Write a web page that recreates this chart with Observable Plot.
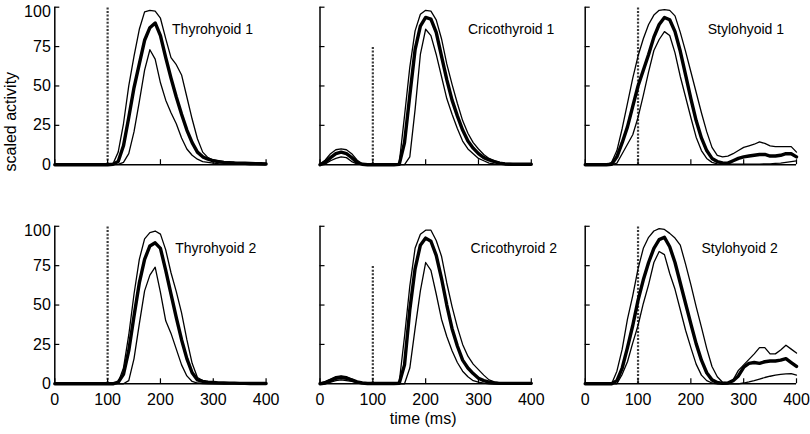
<!DOCTYPE html>
<html><head><meta charset="utf-8">
<script src="https://cdn.jsdelivr.net/npm/d3@7"></script>
<script src="https://cdn.jsdelivr.net/npm/@observablehq/plot@0.6"></script>
<style>
body{margin:0;background:#fff;}
#chart{width:810px;height:434px;}
</style></head><body><div id="chart"></div>
<script>
// ---- data ----
const time = [0,10,20,30,40,50,60,70,80,90,100,110,120,130,140,150,160,170,180,190,200,210,220,230,240,250,260,270,280,290,300,310,320,330,340,350,360,370,380,390,400];
const muscles = ["Thyrohyoid","Cricothyroid","Stylohyoid"];
const sessions = ["1","2"];
const panelTitles = ["Thyrohyoid 1","Cricothyroid 1","Stylohyoid 1","Thyrohyoid 2","Cricothyroid 2","Stylohyoid 2"];
const titleTime = [222,280,232,228,285,220];
const cueTime = 100;
const cueTop = [100,75,100];
const yTicks = [0,25,50,75];
const yTopTick = [100];
const xTicks = [0,100,200,300,400];

const th1Upper = [0,0,0,0,0,0,0,0,0,0, 0, 0.5,8,26,50,69,86,97,98,97.5, 93,80,68,63.5,57,43,29,16.5,8,4.5, 3,2.5,2,1.7,1.5,1.2,1.1,1,0.9,0.8, 0.8];
const th1Mean  = [0,0,0,0,0,0,0,0,0,0, 0, 0.3,2,12,30,49,64,79,87,90, 82,68,55,43,32,22,14,8,5,3.5, 2.5,2,1.5,1.3,1.1,1,0.9,0.8,0.7,0.6, 0.5];
const th1Lower = [0,0,0,0,0,0,0,0,0,0, 0, 0,0.2,1.5,7,21,40,60,73,67, 52,41,33,26,17,10,6,3.5,2,1.5, 1,0.7,0.5,0.4,0.3,0.2,0.2,0.1,0.1,0, 0];

const cr1Upper = [0.5,3,7,9.5,10,9.5,7,3,0.5,0, 0, 0,0,0,0,1,31,62,85,95.5, 98,97.5,92,80,64,51,39,28,20,14, 10,6.5,4,2.5,1.5,1,0.8,0.6,0.5,0.5, 0.5];
const cr1Mean  = [0,1.5,4.5,7,8,7,4.5,1.5,0.3,0, 0, 0,0,0,0,0.2,14,44,73,88, 93.5,92.5,84,69,54,41,31,22,15,10.5, 7,4.5,3,2,1,0.5,0.3,0.3,0.3,0.3, 0.3];
const cr1Lower = [0,0.5,2.5,4,5,4.5,2,0.5,0,0, 0, 0,0,0,0,0,0,5,35,70, 86,82,70,56,42,32,23,15,10,7, 4,2.5,1,0.5,0.2,0.2,0.2,0.2,0.2,0.2, 0.2];

const st1Upper = [0,0,0,0,0,1.5,9,23,39,55, 69, 80,89,95,98,98.5,98,94.5,84,72, 59,46,33,21,11,6,5,5.5,7,9, 11,12,13,14.5,13.5,12,11.5,11.5,11.5,11.5, 8];
const st1Mean  = [0,0,0,0,0,0.3,5,14,24,37, 50, 60,70,81,89,93.5,92,84.5,72,57, 42,28,17,9,4,2,1.2,1,2.5,4, 5,5.5,6,6.5,6.5,5.5,5.5,6,7,7, 5];
const st1Lower = [0,0,0,0,0,0,1,7,13,19, 30, 44,59,72.5,79.5,84.5,82,71,56,43, 30,17.5,9,4,1.5,0.5,0.3,0.3,0.3,0.3, 0.3,0.3,0.4,0.4,0.5,0.5,0.8,1,1.5,2, 2.5];

const th2Upper = [0,0,0,0,0,0,0,0,0,0, 0, 0,0.8,10,31,57,79,92,96,97, 95,85,70.5,58.5,45,28,13,4,2,1, 0.8,0.6,0.5,0.4,0.4,0.3,0.3,0.2,0.2,0.2, 0.2];
const th2Mean  = [0,0,0,0,0,0,0,0,0,0, 0, 0,1,6,21,43,64,79,87.5,89.5, 86,72,57,42,28,16,7,2.5,1.5,1, 0.8,0.6,0.5,0.4,0.4,0.3,0.3,0.2,0.2,0.2, 0.2];
const th2Lower = [0,0,0,0,0,0,0,0,0,0, 0, 0,0,0,2,16,38,59,69,74, 58,40,32,22,12,5,1.5,0.5,0.2,0, 0,0,0,0,0,0,0,0,0,0, 0];

const cr2Upper = [0.3,1.5,3,4.5,5,4.5,3,1.5,0.8,0.5, 0.3, 0.3,0.3,0.3,0.3,1,30,62,86,95, 97.5,97.5,91,81,64,49,36,25,17.5,12.5, 9,5.5,2.5,1.2,0.6,0.4,0.4,0.4,0.4,0.4, 0.4];
const cr2Mean  = [0,0.5,2,3.5,4,3.5,2.5,1.2,0.5,0.2, 0.2, 0.2,0.2,0.2,0.2,0.3,12,47,73,88, 92.5,90.5,81.5,67,50,35,24,15,10,6.5, 3.5,2,1,0.5,0.3,0.3,0.3,0.3,0.3,0.3, 0.3];
const cr2Lower = [0,0.2,1,2,2.5,2,1.5,0.7,0.3,0, 0, 0,0,0,0,0,0,10,35,59, 77,72,57,41,30,21,13.5,8,4.5,2, 1,0.4,0,0,0,0,0,0,0,0, 0];

const st2Upper = [0,0,0,0,0,0,8,22,41,56, 73, 86,93,97,98.5,98,95.5,92.5,88,76, 63,49,36,22.5,11,4.5,1,0.5,2.5,8.5, 12,15.5,19,23,23,19,19,21.5,24.5,22, 19.5];
const st2Mean  = [0,0,0,0,0,0,2,10,23,37, 53, 66,77,86,91.5,93,87,77,64,51, 38,25.5,15,7,2.5,0.8,0.3,0.5,2,5, 10.5,13,13.5,13,14,14.5,14.5,15,16,13.5, 11];
const st2Lower = [0,0,0,0,0,0,0,6,14,26, 37, 51,63,77,84,82,70,60,47,34, 23,12.5,5.5,2,0.5,0,0,0,0,0, 0.5,1.2,2,3,4,4.8,5.5,6,6.3,6.4, 5.5];

// ---- tables built from the arrays ----
const panels = [
  ["Thyrohyoid","1",th1Upper,th1Mean,th1Lower],
  ["Cricothyroid","1",cr1Upper,cr1Mean,cr1Lower],
  ["Stylohyoid","1",st1Upper,st1Mean,st1Lower],
  ["Thyrohyoid","2",th2Upper,th2Mean,th2Lower],
  ["Cricothyroid","2",cr2Upper,cr2Mean,cr2Lower],
  ["Stylohyoid","2",st2Upper,st2Mean,st2Lower]
];
const statNames = ["upper","mean","lower"];
const rows = panels.flatMap(([muscle, session, ...vals]) =>
  statNames.flatMap((stat, k) => time.map((t, i) => ({muscle, session, stat, t, v: vals[k][i]}))));
const bandRows = rows.filter(d => d.stat !== "mean");
const meanRows = rows.filter(d => d.stat === "mean");
const titleRows = panels.map(([muscle, session], i) => ({muscle, session, title: panelTitles[i], t: titleTime[i]}));
const cueRows = sessions.flatMap(session => muscles.map((muscle, j) => ({muscle, session, t: cueTime, top: cueTop[j]})));

const chart = Plot.plot({
  width: 810,
  height: 434,
  marginLeft: 54.3,
  marginRight: 14,
  marginTop: 6.7,
  marginBottom: 50.7,
  style: {fontFamily: "'Liberation Sans', Arial, sans-serif", fontSize: "16px", color: "#000", background: "#fff", overflow: "visible"},
  x: {domain: [0, 400]},
  y: {domain: [0, 100]},
  fx: {domain: muscles, axis: null, paddingInner: 0.2033, paddingOuter: 0, round: false},
  fy: {domain: sessions, axis: null, paddingInner: 0.281, paddingOuter: 0, round: false},
  marks: [
    Plot.ruleX(cueRows, {x: "t", y1: 0, y2: "top", fx: "muscle", fy: "session", stroke: "#3a3a3a", strokeWidth: 2.2, strokeDasharray: "2,1.6"}),
    Plot.line(bandRows, {x: "t", y: "v", z: "stat", fx: "muscle", fy: "session", stroke: "#000", strokeWidth: 1.3}),
    Plot.line(meanRows, {x: "t", y: "v", fx: "muscle", fy: "session", stroke: "#000", strokeWidth: 3.4}),
    Plot.ruleY([0], {stroke: "#000", strokeWidth: 1.5}),
    Plot.ruleX([0], {stroke: "#000", strokeWidth: 1.5}),
    Plot.axisY({ticks: [...yTicks, ...yTopTick], tickSize: -5, tickFormat: () => "", facetAnchor: null, label: null, strokeWidth: 1.2}),
    Plot.axisY({ticks: yTicks, tickSize: 0, tickPadding: 4, label: null, fontSize: 16}),
    Plot.axisY({ticks: yTopTick, tickSize: 0, tickPadding: 4, label: null, fontSize: 16, dy: 5}),
    Plot.axisX({ticks: xTicks, tickSize: -5, tickFormat: () => "", facetAnchor: null, label: null, strokeWidth: 1.2}),
    Plot.axisX({ticks: xTicks, tickSize: 0, tickPadding: 10, label: null, fontSize: 16}),
    Plot.text(titleRows, {x: "t", frameAnchor: "top", dy: 22, text: "title", fx: "muscle", fy: "session", textAnchor: "start", lineAnchor: "middle", fontSize: 14, fill: "#000"}),
    Plot.text(["scaled activity"], {frameAnchor: "left", facet: "super", rotate: -90, dx: -44, dy: -24, fontSize: 16, fill: "#000"}),
    Plot.text(["time (ms)"], {frameAnchor: "bottom", facet: "super", dx: -2.5, dy: 35, lineAnchor: "middle", fontSize: 16, fill: "#000"})
  ]
});
document.getElementById("chart").appendChild(chart);
</script>
</body></html>
